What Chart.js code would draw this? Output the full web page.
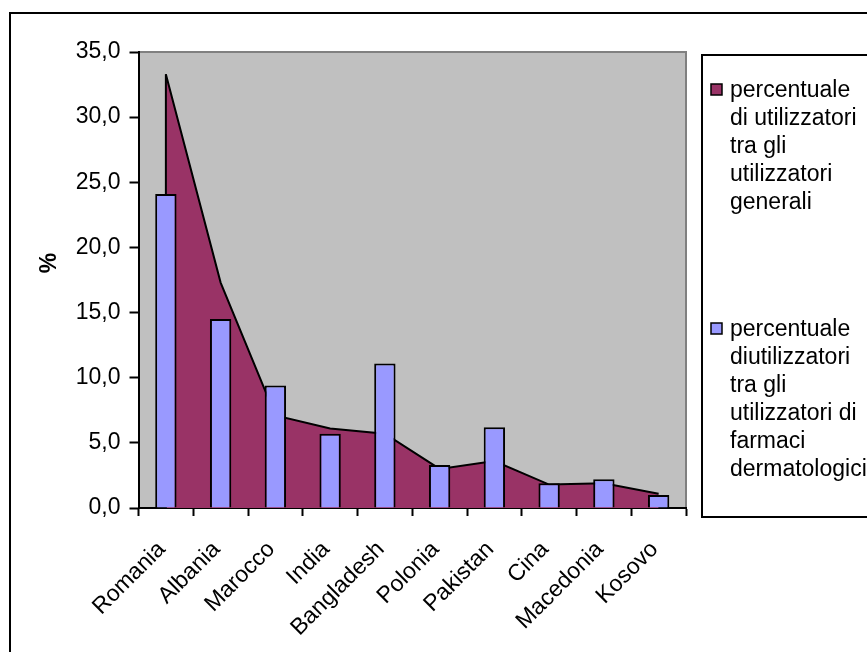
<!DOCTYPE html>
<html>
<head>
<meta charset="utf-8">
<script src="https://cdn.jsdelivr.net/npm/chart.js@4.4.0/dist/chart.umd.min.js"></script>
<style>
  html, body { margin: 0; padding: 0; background: #ffffff; }
  #wrap { width: 867px; height: 652px; }
</style>
</head>
<body>
<div id="wrap"><canvas id="grafico" width="867" height="652"></canvas></div>
<script>
// Paesi di provenienza
const paesi = ['Romania', 'Albania', 'Marocco', 'India', 'Bangladesh', 'Polonia', 'Pakistan', 'Cina', 'Macedonia', 'Kosovo'];

// % di utilizzatori tra gli utilizzatori generali (area)
const utilizzatoriGenerali = [33.3, 17.3, 7.1, 6.1, 5.7, 3.0, 3.6, 1.8, 1.9, 1.1];

// % di utilizzatori tra gli utilizzatori di farmaci dermatologici (colonne)
const utilizzatoriDermatologici = [24.1, 14.5, 9.4, 5.7, 11.1, 3.3, 6.2, 1.9, 2.2, 1.0];

// Etichette dell'asse dei valori
const etichetteAsseY = ['0,0', '5,0', '10,0', '15,0', '20,0', '25,0', '30,0', '35,0'];
const titoloAsseY = '%';

// Testo della legenda, una riga per elemento
const legendaGenerali = ['percentuale', 'di utilizzatori', 'tra gli', 'utilizzatori', 'generali'];
const legendaDermatologici = ['percentuale', 'diutilizzatori', 'tra gli', 'utilizzatori di', 'farmaci', 'dermatologici'];

const FONT = '"Liberation Sans", Arial, Helvetica, sans-serif';
const DIM_TESTO = 23;
const COLORE_AREA = '#993366';
const COLORE_COLONNE = '#9999FF';

// Sfondo, cornice esterna e area del tracciato grigia
const sfondo = {
  id: 'sfondo',
  beforeDraw(chart) {
    const { ctx, chartArea: a } = chart;
    ctx.save();
    ctx.fillStyle = '#ffffff';
    ctx.fillRect(0, 0, chart.width, chart.height);
    ctx.strokeStyle = '#000000';
    ctx.lineWidth = 2;
    ctx.strokeRect(10, 13, chart.width + 20, chart.height + 20);
    ctx.fillStyle = '#C0C0C0';
    ctx.fillRect(a.left, a.top, a.right - a.left, a.bottom - a.top);
    ctx.strokeStyle = '#808080';
    ctx.lineWidth = 2;
    ctx.beginPath();
    ctx.moveTo(a.left, a.top);
    ctx.lineTo(a.right, a.top);
    ctx.lineTo(a.right, a.bottom);
    ctx.stroke();
    ctx.restore();
  }
};

// Titolo dell'asse verticale, ruotato
const titoloVerticale = {
  id: 'titoloVerticale',
  afterDraw(chart, args, opts) {
    const { ctx, chartArea: a } = chart;
    ctx.save();
    ctx.translate(opts.x, (a.top + a.bottom) / 2 + opts.dy);
    ctx.rotate(-Math.PI / 2);
    ctx.font = 'bold ' + DIM_TESTO + 'px ' + FONT;
    ctx.fillStyle = '#000000';
    ctx.textAlign = 'center';
    ctx.textBaseline = 'middle';
    ctx.fillText(opts.testo, 0, 0);
    ctx.restore();
  }
};

// Bordo verticale sinistro dell'area (dal primo punto alla base)
const bordoArea = {
  id: 'bordoArea',
  afterDatasetDraw(chart, args) {
    if (args.index !== 0) return;
    const pts = args.meta.data;
    if (!pts.length) return;
    const { ctx } = chart;
    const base = chart.scales.y.getPixelForValue(0);
    ctx.save();
    ctx.strokeStyle = '#000000';
    ctx.lineWidth = 2;
    ctx.beginPath();
    ctx.moveTo(pts[0].x, pts[0].y);
    ctx.lineTo(pts[0].x, base);
    ctx.stroke();
    ctx.restore();
  }
};

// Legenda a destra con testo su più righe
const legendaLaterale = {
  id: 'legendaLaterale',
  afterDraw(chart, args, opts) {
    const { ctx } = chart;
    ctx.save();
    ctx.strokeStyle = '#000000';
    ctx.lineWidth = 2;
    ctx.strokeRect(opts.x, opts.y, chart.width, opts.bottom - opts.y);
    ctx.font = DIM_TESTO + 'px ' + FONT;
    ctx.textBaseline = 'alphabetic';
    ctx.textAlign = 'left';
    opts.voci.forEach((voce) => {
      const ds = chart.data.datasets[voce.dataset];
      ctx.fillStyle = ds.backgroundColor;
      ctx.fillRect(opts.x + 9, voce.y - 13, 11, 11);
      ctx.strokeStyle = '#000000';
      ctx.lineWidth = 1.5;
      ctx.strokeRect(opts.x + 9, voce.y - 13, 11, 11);
      ctx.fillStyle = '#000000';
      voce.righe.forEach((riga, i) => {
        ctx.fillText(riga, opts.x + 28, voce.y + i * 28);
      });
    });
    ctx.restore();
  }
};

new Chart(document.getElementById('grafico'), {
  type: 'bar',
  data: {
    labels: paesi,
    datasets: [
      {
        type: 'line',
        label: legendaGenerali.join(' '),
        data: utilizzatoriGenerali,
        backgroundColor: COLORE_AREA,
        borderColor: '#000000',
        borderWidth: 2,
        fill: 'origin',
        pointRadius: 0,
        tension: 0,
        order: 2
      },
      {
        type: 'bar',
        label: legendaDermatologici.join(' '),
        data: utilizzatoriDermatologici,
        backgroundColor: COLORE_COLONNE,
        borderColor: '#000000',
        borderWidth: 2,
        categoryPercentage: 1,
        barPercentage: 0.39,
        order: 1
      }
    ]
  },
  options: {
    responsive: false,
    animation: false,
    devicePixelRatio: 1,
    layout: { padding: { top: 52, right: 181, bottom: 0, left: 0 } },
    plugins: {
      legend: { display: false },
      tooltip: { enabled: false },
      titoloVerticale: { testo: titoloAsseY, x: 50, dy: -17 },
      legendaLaterale: {
        x: 702, y: 55, bottom: 517,
        voci: [
          { dataset: 0, y: 97, righe: legendaGenerali },
          { dataset: 1, y: 336, righe: legendaDermatologici }
        ]
      }
    },
    scales: {
      x: {
        offset: true,
        afterFit(scale) { scale.height = 144; },
        grid: {
          offset: true,
          drawOnChartArea: false,
          drawTicks: true,
          tickLength: 8,
          tickWidth: 2,
          tickColor: '#000000'
        },
        border: { display: true, color: '#000000', width: 2 },
        ticks: {
          color: '#000000',
          font: { family: FONT, size: DIM_TESTO },
          minRotation: 45,
          maxRotation: 45,
          padding: 20,
          labelOffset: -4,
          autoSkip: false
        }
      },
      y: {
        min: 0,
        max: 35,
        afterFit(scale) { scale.width = 138.5; },
        grid: {
          drawOnChartArea: false,
          drawTicks: true,
          tickLength: 9,
          tickWidth: 2,
          tickColor: '#000000'
        },
        border: { display: true, color: '#000000', width: 2 },
        ticks: {
          stepSize: 5,
          color: '#000000',
          font: { family: FONT, size: DIM_TESTO },
          padding: 9,
          callback(value, index) { return etichetteAsseY[index]; }
        }
      }
    }
  },
  plugins: [sfondo, titoloVerticale, bordoArea, legendaLaterale]
});
</script>
</body>
</html>
